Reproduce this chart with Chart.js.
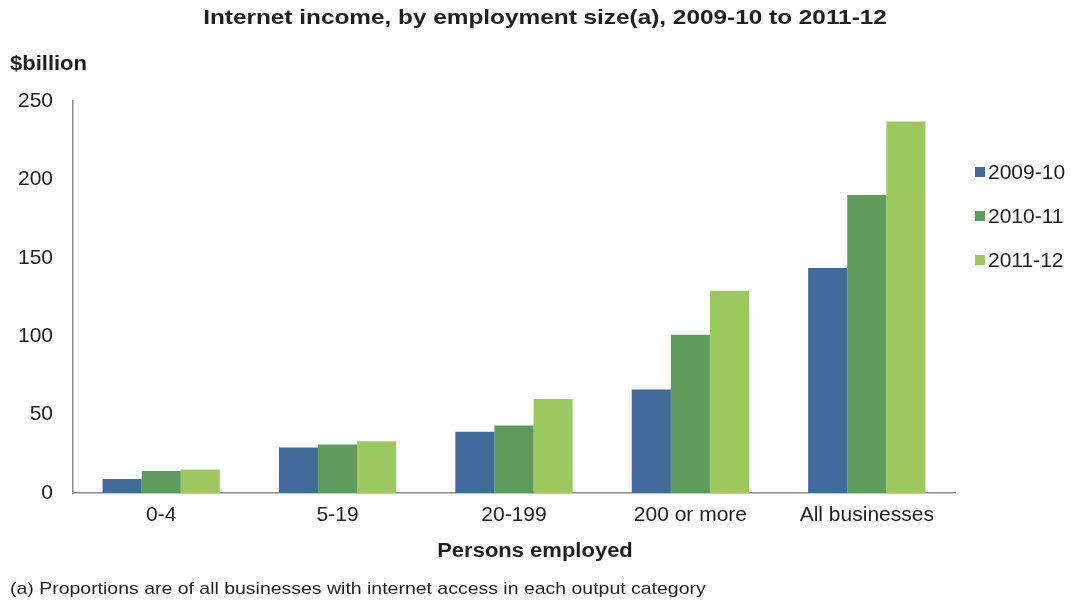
<!DOCTYPE html>
<html>
<head>
<meta charset="utf-8">
<title>Internet income, by employment size</title>
<script src="https://cdn.jsdelivr.net/npm/chart.js@4.4.0/dist/chart.umd.min.js"></script>
<style>
  html, body { margin: 0; padding: 0; background: #fff; }
  #wrap { width: 1075px; height: 600px; }
</style>
</head>
<body>
<div id="wrap"><canvas id="chart" width="1075" height="600"></canvas></div>
<script>
// $billion, by persons employed
var categories = ['0-4', '5-19', '20-199', '200 or more', 'All businesses'];
var years = ['2009-10', '2010-11', '2011-12'];
var income_2009_10 = [9, 29, 39, 66, 143.5];
var income_2010_11 = [14, 31, 43, 101, 190];
var income_2011_12 = [15, 33, 60, 129, 237];
var y_ticks = [0, 50, 100, 150, 200, 250];

var colours = ['#426a9b', '#5f9b5c', '#9bc95d'];
var FONT = '"Liberation Sans", Arial, sans-serif';
var TEXT = '#1e1e1e';

var title_text = 'Internet income, by employment size(a), 2009-10 to 2011-12';
var x_title = 'Persons employed';
var y_unit = '$billion';
var footnote = '(a) Proportions are of all businesses with internet access in each output category';

// text drawn a little wider than the font's natural width
function wideText(ctx, text, x, y, sx, align){
    ctx.save();
    ctx.translate(x, y);
    ctx.scale(sx, 1);
    ctx.textAlign = align;
    ctx.fillText(text, 0, 0);
    ctx.restore();
}

// title, unit label, axis caption, footnote and the legend on the right
var extras = {
    id: 'extras',
    afterDraw: function(chart){
        var ctx = chart.ctx;
        ctx.save();
        ctx.fillStyle = TEXT;
        ctx.textBaseline = 'middle';

        ctx.font = 'bold 21px ' + FONT;
        wideText(ctx, title_text, 545, 18, 1.16, 'center');

        ctx.font = 'bold 20px ' + FONT;
        wideText(ctx, y_unit, 10, 64, 1.1, 'left');
        wideText(ctx, x_title, 535, 551, 1.1, 'center');

        ctx.font = '17px ' + FONT;
        wideText(ctx, footnote, 10, 589, 1.145, 'left');

        chart.data.datasets.forEach(function(ds, i){
            var y = 172 + i * 44;
            ctx.fillStyle = ds.backgroundColor;
            ctx.fillRect(975, y - 5, 10, 10);
            ctx.fillStyle = TEXT;
            ctx.font = '21px ' + FONT;
            ctx.textAlign = 'left';
            ctx.fillText(ds.label, 988, y + 1);
        });
        ctx.restore();
    }
};

var series = [income_2009_10, income_2010_11, income_2011_12];
var datasets = [];
for (var i = 0; i < years.length; i++) {
    datasets.push({
        label: years[i],
        data: series[i],
        backgroundColor: colours[i],
        borderWidth: 0,
        categoryPercentage: 0.665,
        barPercentage: 1.0
    });
}

const config = {
    type: 'bar',
    data: {
        labels: categories,
        datasets: datasets
    },
    options: {
        responsive: false,
        animation: false,
        layout: {
            padding: { left: 0, right: 120, top: 101, bottom: 0 }
        },
        plugins: {
            legend: { display: false },
            tooltip: { enabled: false },
            title: { display: false }
        },
        scales: {
            x: {
                grid: { display: false, drawTicks: false },
                border: { display: true, color: '#8c8c8c', width: 1.5 },
                ticks: {
                    color: TEXT,
                    font: { family: FONT, size: 21 },
                    padding: 10,
                    maxRotation: 0
                },
                afterFit: function(scale){ scale.height = 107; }
            },
            y: {
                min: 0,
                max: 250,
                grid: { display: false, drawTicks: false },
                border: { display: true, color: '#8c8c8c', width: 1.5 },
                afterBuildTicks: function(scale){
                    scale.ticks = y_ticks.map(function(v){ return { value: v }; });
                },
                ticks: {
                    color: TEXT,
                    font: { family: FONT, size: 21 },
                    padding: 20
                },
                afterFit: function(scale){ scale.width = 73; }
            }
        }
    },
    plugins: [extras]
};

const ctx = document.getElementById('chart').getContext('2d');
const myChart = new Chart(ctx, config);
</script>
</body>
</html>
